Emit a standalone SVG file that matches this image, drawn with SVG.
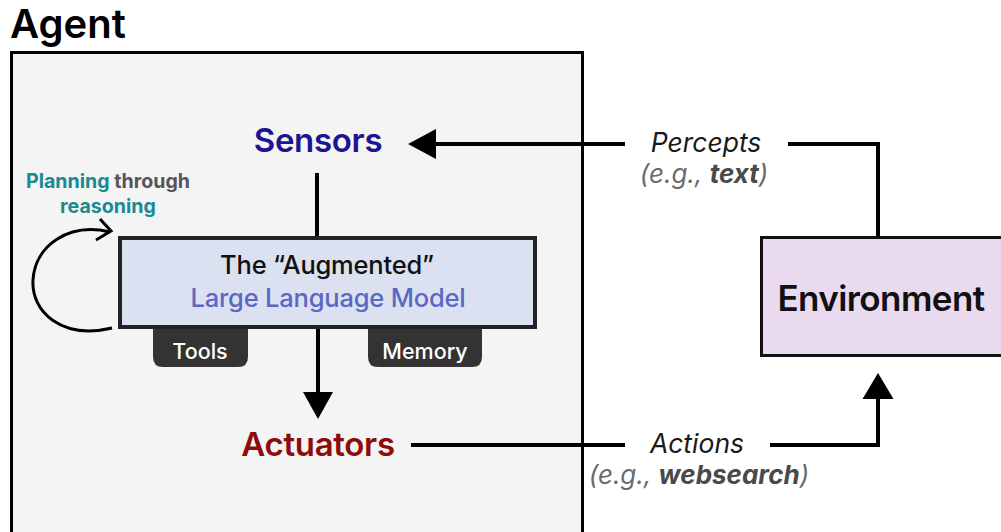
<svg xmlns="http://www.w3.org/2000/svg" width="1001" height="532" viewBox="0 0 1001 532">
  <defs>
    <style>
      .t { font-family: Inter, "Noto Sans", "Liberation Sans", sans-serif; }
      .head { font-size: 40px; font-weight: 600; fill: #000; letter-spacing: 0px; }
      .big { font-size: 33px; font-weight: 600; letter-spacing: -0.3px; }
      .mid { font-size: 25.5px; font-weight: 500; letter-spacing: -0.2px; }
      .tab { font-size: 21.5px; font-weight: 500; fill: #fff; }
      .lbl { font-size: 26.5px; font-style: italic; fill: #1a1a1a; font-weight: 400; }
      .eg { font-size: 26px; font-style: italic; fill: #6b6b6b; }
      .egb { font-weight: 700; fill: #4a4a4a; }
      .plan { font-size: 19.6px; font-weight: 700; }
      .wire { fill: none; stroke: #000; stroke-width: 4; }
    </style>
  </defs>

  <rect width="1001" height="532" fill="#fff"/>

  <!-- Agent container -->
  <g id="agent">
    <text class="t head" x="10" y="38">Agent</text>
    <rect x="11.5" y="52.5" width="571" height="500" fill="#f4f4f4" stroke="#000" stroke-width="3"/>
  </g>

  <!-- Connectors -->
  <g id="connectors">
    <!-- Environment -> Sensors -->
    <polyline class="wire" points="878,236 878,144 788,144"/>
    <line class="wire" x1="625" y1="144" x2="432" y2="144"/>
    <polygon points="408,144 436,129 436,159" fill="#000"/>
    <!-- Sensors -> LLM -->
    <line class="wire" x1="317" y1="173" x2="317" y2="237"/>
    <!-- LLM -> Actuators -->
    <line class="wire" x1="318" y1="329" x2="318" y2="395"/>
    <polygon points="318,419 303,392 333,392" fill="#000"/>
    <!-- Actuators -> Environment -->
    <line class="wire" x1="411" y1="445" x2="625" y2="445"/>
    <polyline class="wire" points="770,445 878,445 878,396"/>
    <polygon points="878,373 862.5,399 893.5,399" fill="#000"/>
    <!-- Planning loop -->
    <path d="M112,328 C62,340 31,312 33,280 C35,246 68,222 110,232" fill="none" stroke="#000" stroke-width="3"/>
    <polyline points="100,219 111,231 96,240" fill="none" stroke="#000" stroke-width="3"/>
  </g>

  <g id="sensors">
    <text class="t big" x="318" y="152" text-anchor="middle" fill="#1c1490">Sensors</text>
  </g>

  <g id="llm">
    <rect x="120" y="238" width="415" height="89" fill="#dbe1f0" stroke="#222" stroke-width="4"/>
    <text class="t mid" x="327" y="274" text-anchor="middle" fill="#111">The “Augmented”</text>
    <text class="t mid" x="328" y="307" text-anchor="middle" fill="#5a68c4">Large Language Model</text>
  </g>

  <g id="tools">
    <path d="M153,329 H248 V357 Q248,367 238,367 H163 Q153,367 153,357 Z" fill="#333"/>
    <text class="t tab" x="200" y="359" text-anchor="middle">Tools</text>
  </g>

  <g id="memory">
    <path d="M368,329 H482 V357 Q482,367 472,367 H378 Q368,367 368,357 Z" fill="#333"/>
    <text class="t tab" x="425" y="359" text-anchor="middle">Memory</text>
  </g>

  <g id="actuators">
    <text class="t big" x="318" y="456" text-anchor="middle" fill="#8e0b0b">Actuators</text>
  </g>

  <g id="planning">
    <text class="t plan" x="108" y="188" text-anchor="middle"><tspan fill="#1a8a92">Planning</tspan><tspan fill="#555"> through</tspan></text>
    <text class="t plan" x="108" y="213" text-anchor="middle" fill="#1a8a92">reasoning</text>
  </g>

  <g id="environment">
    <rect x="761.5" y="237.5" width="260" height="118" fill="#e9daef" stroke="#111" stroke-width="3"/>
    <text class="t big" x="881" y="311" text-anchor="middle" fill="#111" style="font-size:35px;letter-spacing:-0.6px">Environment</text>
  </g>

  <g id="percepts">
    <text class="t lbl" x="706" y="152" text-anchor="middle">Percepts</text>
    <text class="t eg" x="704" y="183" text-anchor="middle">(e.g., <tspan class="egb">text</tspan>)</text>
  </g>

  <g id="actions">
    <text class="t lbl" x="697" y="453" text-anchor="middle">Actions</text>
    <text class="t eg" x="699" y="484" text-anchor="middle">(e.g., <tspan class="egb">websearch</tspan>)</text>
  </g>
</svg>
